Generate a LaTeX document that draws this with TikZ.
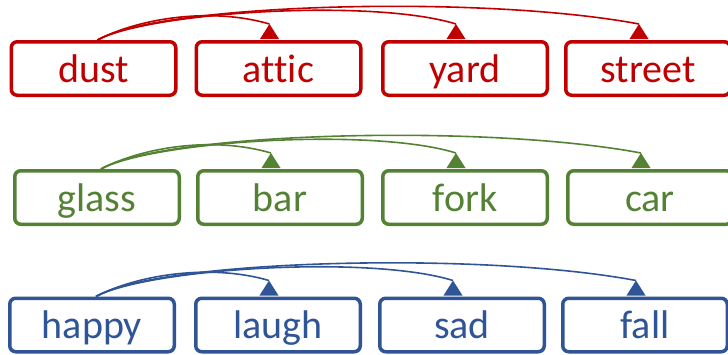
\documentclass[tikz,border=0pt]{standalone}
\usepackage{fontspec}
\setmainfont[Ligatures=NoCommon]{Carlito}
\usetikzlibrary{calc}
\definecolor{wred}{HTML}{C00000}
\definecolor{wgreen}{HTML}{548235}
\definecolor{wblue}{HTML}{2F5597}
\tikzset{
  word/.style={draw, line width=3.5pt, rounded corners=6pt,
    minimum width=164.5pt, minimum height=53.5pt, inner sep=0pt,
    text height=30pt, text depth=3pt,
    font=\fontsize{40}{40}\selectfont},
  link/.style={line width=1.6pt},
}
\begin{document}
\begin{tikzpicture}[x=1pt,y=-1pt]
\useasboundingbox (0,0) rectangle (728,354);
% one row per colour: a source word linked to three target words
\foreach \rowcol/\yc/\xa/\xb/\xc/\xd/\wordA/\wordB/\wordC/\wordD in {
  wred/68.5/93.5/278.5/465/648/dust/attic/yard/street,
  wgreen/197.5/97/280/465/650/glass/bar/fork/car,
  wblue/325/92/278/462/645/happy/laugh/sad/fall}{
  \begin{scope}[color=\rowcol]
    \node[word] (\wordA) at (\xa,\yc) {\wordA};
    \node[word] (\wordB) at (\xb,\yc) {\wordB};
    \node[word] (\wordC) at (\xc,\yc) {\wordC};
    \node[word] (\wordD) at (\xd,\yc) {\wordD};
    \coordinate (\wordA-src) at ($(\wordA.north)+(4,0)$);
    \foreach \t in {\wordB,\wordC,\wordD}{
      \coordinate (\t-tip) at ($(\t.north)+(-9,-16)$);
      \fill (\t-tip) -- ++(-9.5,15) -- ++(19,0) -- cycle;
    }
    \draw[link] (\wordA-src) .. controls +(42,-22) and +(-58,-17) .. (\wordB-tip);
    \draw[link] (\wordA-src) .. controls +(52,-28) and +(-84,-26) .. (\wordC-tip);
    \draw[link] (\wordA-src) .. controls +(60,-36) and +(-160,-30) .. (\wordD-tip);
  \end{scope}
}
\end{tikzpicture}
\end{document}
